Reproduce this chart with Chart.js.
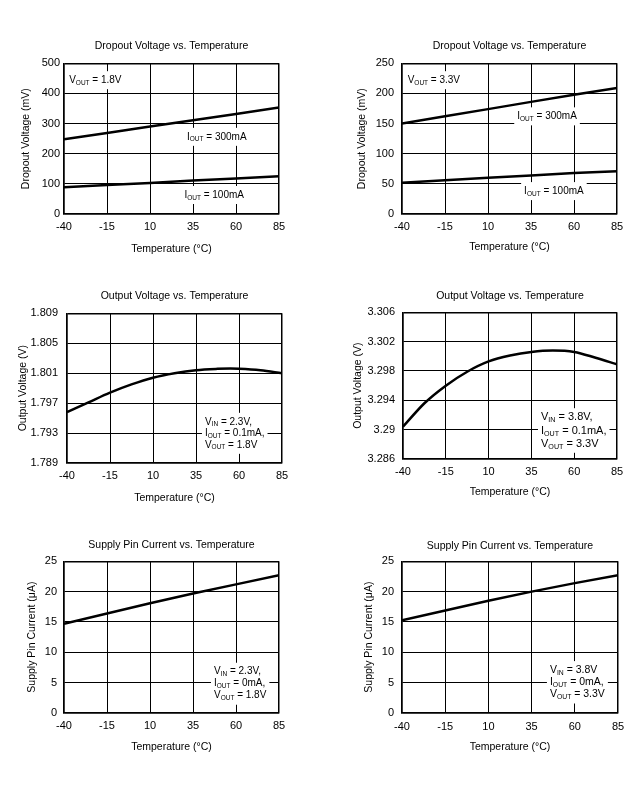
<!DOCTYPE html>
<html>
<head>
<meta charset="utf-8">
<script src="https://cdn.jsdelivr.net/npm/chart.js@4.4.1/dist/chart.umd.min.js"></script>
<style>
html, body { margin: 0; padding: 0; background: #fff; overflow: hidden; }
canvas { position: absolute; }
</style>
</head>
<body>
<canvas id="c1"></canvas>
<canvas id="c2"></canvas>
<canvas id="c3"></canvas>
<canvas id="c4"></canvas>
<canvas id="c5"></canvas>
<canvas id="c6"></canvas>
<script>
// temperature axis (°C)
const tempTicks = [-40, -15, 10, 35, 60, 85];

// dropout voltage (mV), Vout = 1.8V
const drop18Temps = [-40, -15, 10, 35, 60, 85];
const drop18_300mA = [248, 269, 290, 311, 332, 353];
const drop18_100mA = [89, 96, 103, 111, 118, 125];
const drop18Ticks = [0, 100, 200, 300, 400, 500];

// dropout voltage (mV), Vout = 3.3V
const drop33Temps = [-40, -15, 10, 35, 60, 85];
const drop33_300mA = [150, 162, 174, 186, 198, 209];
const drop33_100mA = [52, 56, 60, 64, 68, 71];
const drop33Ticks = [0, 50, 100, 150, 200, 250];

// output voltage (V), Vout = 1.8V
const vout18Temps = [-40, -27.5, -15, -2.5, 10, 22.5, 35, 47.5, 55, 60, 72.5, 85];
const vout18 = [1.7958, 1.7971, 1.7984, 1.7995, 1.8004, 1.8010, 1.8014, 1.80158, 1.80163, 1.8016, 1.8014, 1.8010];
const vout18Ticks = [1.789, 1.793, 1.797, 1.801, 1.805, 1.809];

// output voltage (V), Vout = 3.3V
const vout33Temps = [-40, -27.5, -15, -2.5, 10, 22.5, 35, 47.5, 60, 72.5, 85];
const vout33 = [3.2904, 3.2936, 3.2960, 3.2979, 3.2993, 3.3001, 3.3006, 3.3008, 3.3006, 3.2998, 3.2989];
const vout33Ticks = [3.286, 3.29, 3.294, 3.298, 3.302, 3.306];

// supply pin current (µA)
const supplyTemps = [-40, -15, 10, 35, 60, 85];
const supply18 = [14.7, 16.4, 18.1, 19.7, 21.2, 22.7];
const supply33 = [15.3, 16.9, 18.5, 20.0, 21.4, 22.7];
const supplyTicks = [0, 5, 10, 15, 20, 25];

const FONT = '"Liberation Sans", Arial, sans-serif';

// text notes with subscripts, white box behind them hides the grid
const notesPlugin = {
    id: 'notes',
    beforeDatasetsDraw(chart, args, opts) {
        const ctx = chart.ctx;
        const xs = chart.scales.x, ys = chart.scales.y;
        (opts.items || []).forEach(item => {
            const fs = item.size || 10;
            const gap = item.gap || 12;
            const x0 = xs.getPixelForValue(item.x);
            const y0 = ys.getPixelForValue(item.y);
            ctx.save();
            const widths = item.lines.map(parts => {
                ctx.font = fs + 'px ' + FONT;
                let w = ctx.measureText(parts[0]).width + ctx.measureText(parts[2]).width;
                ctx.font = (fs * 0.65) + 'px ' + FONT;
                return w + ctx.measureText(parts[1]).width;
            });
            const maxW = Math.max(...widths);
            ctx.fillStyle = '#fff';
            ctx.fillRect(x0 - 3, y0 - 9, maxW + 6, (item.lines.length - 1) * gap + 18);
            ctx.fillStyle = '#000';
            ctx.textBaseline = 'middle';
            ctx.textAlign = 'left';
            item.lines.forEach((parts, i) => {
                const y = y0 + i * gap;
                let x = x0;
                ctx.font = fs + 'px ' + FONT;
                ctx.fillText(parts[0], x, y);
                x += ctx.measureText(parts[0]).width;
                ctx.font = (fs * 0.65) + 'px ' + FONT;
                ctx.fillText(parts[1], x, y + fs * 0.28);
                x += ctx.measureText(parts[1]).width;
                ctx.font = fs + 'px ' + FONT;
                ctx.fillText(parts[2], x, y);
            });
            ctx.restore();
        });
    }
};

function makeChart(id, box, spec) {
    const [L, T, R, B] = box.plot;
    const left = box.yTitleX - 10;
    const top = box.titleY - 10;
    const side = 12;
    const bottom = box.xTitleY + 10;
    const w = R + side - left;
    const h = bottom - top;
    const canvas = document.getElementById(id);
    canvas.width = w;
    canvas.height = h;
    canvas.style.width = w + 'px';
    canvas.style.height = h + 'px';
    canvas.style.left = left + 'px';
    canvas.style.top = top + 'px';

    const tickFont = { family: FONT, size: 11 };
    const titleFont = { family: FONT, size: 10.5 };
    const edgeWidth = c => (c.index === 0 || c.index === 5) ? 1.5 : 1;

    new Chart(canvas, {
        type: 'line',
        data: {
            datasets: spec.series.map(s => ({
                data: s.temps.map((t, i) => ({ x: t, y: s.values[i] })),
                borderColor: '#000',
                borderWidth: 2.5,
                pointRadius: 0,
                fill: false,
                cubicInterpolationMode: spec.smooth ? 'monotone' : 'default'
            }))
        },
        options: {
            responsive: false,
            animation: false,
            events: [],
            layout: { padding: { right: side } },
            plugins: {
                legend: { display: false },
                tooltip: { enabled: false },
                title: {
                    display: true,
                    fullSize: false,
                    text: spec.title,
                    color: '#000',
                    font: { family: FONT, size: 10.5, weight: 'normal', lineHeight: 1.2 },
                    padding: { top: 4, bottom: T - box.titleY - 6.3 }
                },
                notes: { items: spec.notes }
            },
            scales: {
                x: {
                    type: 'linear',
                    min: -40,
                    max: 85,
                    afterBuildTicks: s => { s.ticks = tempTicks.map(v => ({ value: v })); },
                    afterFit: s => { s.height = bottom - B; s.paddingLeft = 0; s.paddingRight = 0; },
                    ticks: { padding: box.xTickY - B - 6.6, color: '#000', font: tickFont, maxRotation: 0, autoSkip: false },
                    grid: { color: '#000', lineWidth: edgeWidth, drawTicks: false },
                    border: { color: '#000', width: 1.5 },
                    title: { display: true, text: 'Temperature (°C)', color: '#000', font: titleFont, padding: { top: 0, bottom: 4 } }
                },
                y: {
                    type: 'linear',
                    min: spec.yTicks[0],
                    max: spec.yTicks[spec.yTicks.length - 1],
                    afterBuildTicks: s => { s.ticks = spec.yTicks.map(v => ({ value: v })); },
                    afterFit: s => { s.width = L - left; s.paddingTop = 0; s.paddingBottom = 0; },
                    ticks: {
                        padding: box.yGap, color: '#000', font: tickFont, autoSkip: false,
                        callback: v => String(+Number(v).toFixed(3))
                    },
                    grid: { color: '#000', lineWidth: edgeWidth, drawTicks: false },
                    border: { color: '#000', width: 1.5 },
                    title: { display: true, text: spec.yTitle, color: '#000', font: titleFont, padding: { top: 4, bottom: 0 } }
                }
            }
        },
        plugins: [notesPlugin]
    });
}

makeChart('c1',
    { plot: [64, 63, 279, 214], titleY: 46, xTickY: 227, xTitleY: 249, yTitleX: 26, yGap: 4 },
    {
        title: 'Dropout Voltage vs. Temperature',
        yTitle: 'Dropout Voltage (mV)',
        yTicks: drop18Ticks,
        series: [
            { temps: drop18Temps, values: drop18_300mA },
            { temps: drop18Temps, values: drop18_100mA }
        ],
        notes: [
            { x: -37, y: 444, lines: [['V', 'OUT', ' = 1.8V']] },
            { x: 31.5, y: 256, lines: [['I', 'OUT', ' = 300mA']] },
            { x: 30, y: 63, lines: [['I', 'OUT', ' = 100mA']] }
        ]
    });

makeChart('c2',
    { plot: [402, 63, 617, 214], titleY: 46, xTickY: 227, xTitleY: 247, yTitleX: 362, yGap: 8 },
    {
        title: 'Dropout Voltage vs. Temperature',
        yTitle: 'Dropout Voltage (mV)',
        yTicks: drop33Ticks,
        series: [
            { temps: drop33Temps, values: drop33_300mA },
            { temps: drop33Temps, values: drop33_100mA }
        ],
        notes: [
            { x: -36.7, y: 222, lines: [['V', 'OUT', ' = 3.3V']] },
            { x: 27, y: 162, lines: [['I', 'OUT', ' = 300mA']] },
            { x: 31, y: 38, lines: [['I', 'OUT', ' = 100mA']] }
        ]
    });

makeChart('c3',
    { plot: [67, 313, 282, 463], titleY: 296, xTickY: 476, xTitleY: 498, yTitleX: 23, yGap: 9 },
    {
        title: 'Output Voltage vs. Temperature',
        yTitle: 'Output Voltage (V)',
        yTicks: vout18Ticks,
        smooth: true,
        series: [{ temps: vout18Temps, values: vout18 }],
        notes: [
            { x: 40.2, y: 1.7945, gap: 11.5, lines: [['V', 'IN', ' = 2.3V,'], ['I', 'OUT', ' = 0.1mA,'], ['V', 'OUT', ' = 1.8V']] }
        ]
    });

makeChart('c4',
    { plot: [403, 312, 617, 459], titleY: 296, xTickY: 472, xTitleY: 492, yTitleX: 358, yGap: 8 },
    {
        title: 'Output Voltage vs. Temperature',
        yTitle: 'Output Voltage (V)',
        yTicks: vout33Ticks,
        smooth: true,
        series: [{ temps: vout33Temps, values: vout33 }],
        notes: [
            { x: 40.6, y: 3.2917, gap: 13.3, size: 11, lines: [['V', 'IN', ' = 3.8V,'], ['I', 'OUT', ' = 0.1mA,'], ['V', 'OUT', ' = 3.3V']] }
        ]
    });

makeChart('c5',
    { plot: [64, 561, 279, 713], titleY: 545, xTickY: 726, xTitleY: 747, yTitleX: 32, yGap: 7 },
    {
        title: 'Supply Pin Current vs. Temperature',
        yTitle: 'Supply Pin Current (μA)',
        yTicks: supplyTicks,
        series: [{ temps: supplyTemps, values: supply18 }],
        notes: [
            { x: 47.2, y: 6.8, gap: 12, lines: [['V', 'IN', ' = 2.3V,'], ['I', 'OUT', ' = 0mA,'], ['V', 'OUT', ' = 1.8V']] }
        ]
    });

makeChart('c6',
    { plot: [402, 561, 618, 713], titleY: 546, xTickY: 727, xTitleY: 747, yTitleX: 369, yGap: 8 },
    {
        title: 'Supply Pin Current vs. Temperature',
        yTitle: 'Supply Pin Current (μA)',
        yTicks: supplyTicks,
        series: [{ temps: supplyTemps, values: supply33 }],
        notes: [
            { x: 45.6, y: 7.07, gap: 12.2, size: 10.5, lines: [['V', 'IN', ' = 3.8V'], ['I', 'OUT', ' = 0mA,'], ['V', 'OUT', ' = 3.3V']] }
        ]
    });
</script>
</body>
</html>
